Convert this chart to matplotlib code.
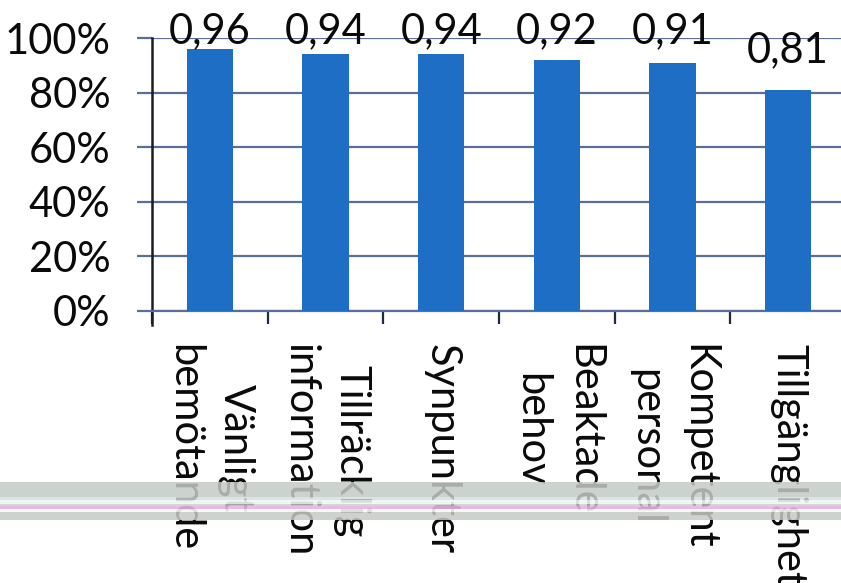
import matplotlib
matplotlib.use('Agg')
import matplotlib.pyplot as plt
from matplotlib.patches import Rectangle
from matplotlib.ticker import PercentFormatter

# andel nöjda per frågeområde
kategorier = ['Vänligt\nbemötande', 'Tillräcklig\ninformation', 'Synpunkter',
              'Beaktade\nbehov', 'Kompetent\npersonal', 'Tillgänglighet']
andelar = [0.96, 0.94, 0.94, 0.92, 0.91, 0.81]
etiketter = ['0,96', '0,94', '0,94', '0,92', '0,91', '0,81']
y_ticks = [0.0, 0.2, 0.4, 0.6, 0.8, 1.0]

plt.rcParams['font.family'] = ['Lato', 'DejaVu Sans']

W, H = 841, 583
fig = plt.figure(figsize=(W / 100, H / 100), dpi=100)

#plotytan går lite utanför högerkanten
ax = fig.add_axes([152 / W, 1 - 311 / H, (846 - 152) / W, (311 - 38) / H])

gridfarg = '#5b6e96'
stapelfarg = '#1f6ec6'
textfarg = '#0a0a0a'

pos = list(range(len(andelar)))
ax.bar(pos, andelar, width=0.4, color=stapelfarg, zorder=3)

#värdeetiketter ovanför staplarna, hålls inom ytan upptill
for i, (v, txt) in enumerate(zip(andelar, etiketter)):
    ax.text(i, min(v + 0.1, 0.982), txt, ha='center', va='baseline',
            fontsize=30, color=textfarg, zorder=4, clip_on=False)

ax.set_xlim(-0.5, len(andelar) - 0.5)
ax.set_ylim(0, 1)

ax.set_yticks(y_ticks)
ax.yaxis.set_major_formatter(PercentFormatter(1, decimals=0))
ax.grid(axis='y', color=gridfarg, linewidth=1.6, zorder=1)
ax.tick_params(axis='y', labelsize=30, length=11, width=1.6, color=gridfarg,
               pad=19, labelcolor=textfarg)

ax.set_xticks(pos)
ax.set_xticklabels(kategorier, rotation=270, ha='center', va='top',
                   multialignment='center', linespacing=1.45,
                   fontsize=30, color=textfarg)
ax.set_xticks([p - 0.5 for p in pos] + [len(pos) - 0.5], minor=True)
ax.tick_params(axis='x', which='major', length=0, pad=24)
ax.tick_params(axis='x', which='minor', length=9, width=1.6, color='#1c2a44')

for s in ['top', 'right']:
    ax.spines[s].set_visible(False)
ax.spines['bottom'].set_color(gridfarg)
ax.spines['bottom'].set_linewidth(1.6)
ax.spines['left'].set_color('#1c1c24')
ax.spines['left'].set_linewidth(1.8)
ax.spines['left'].set_bounds(-0.05, 1)

#skannerrand tvärs över bilden
def rand(y0, y1, farg, alpha):
    fig.add_artist(Rectangle((0, 1 - y1 / H), 1, (y1 - y0) / H,
                             transform=fig.transFigure, facecolor=farg,
                             edgecolor='none', alpha=alpha, zorder=10))

rand(482, 497, '#c4cac5', 0.85)
rand(497, 500, '#d8dcd8', 0.8)
rand(500, 504, '#eef6f8', 0.9)
rand(504, 506, '#c8ccc8', 0.8)
rand(506, 509, '#e6b4e0', 0.9)
rand(509, 512, '#f4f8f8', 0.9)
rand(512, 520, '#c4cac5', 0.85)

fig.savefig('out.png', dpi=100)
